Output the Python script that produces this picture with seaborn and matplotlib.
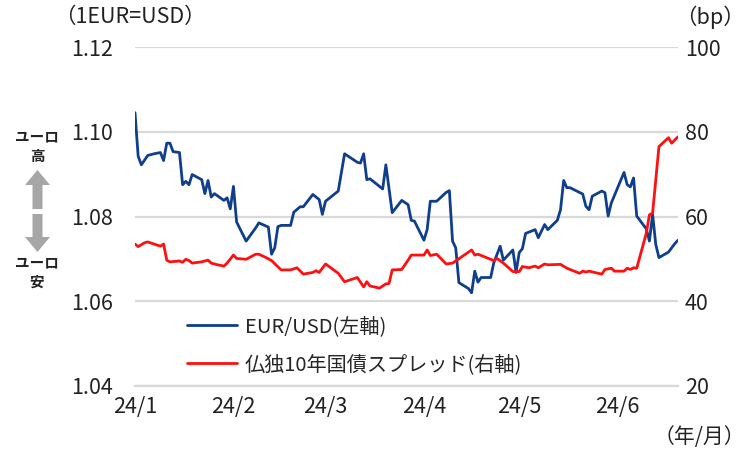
import matplotlib
matplotlib.use("Agg")
import matplotlib.pyplot as plt
from matplotlib.patches import FancyArrow
import seaborn as sns
import pandas as pd

sns.set_theme(style="white")
plt.rcParams['font.family'] = ['Noto Sans CJK JP', 'DejaVu Sans']

# ---------------- data ----------------
eur_dates = [
    "2024-01-01", "2024-01-02", "2024-01-03", "2024-01-05", "2024-01-07", "2024-01-09",
    "2024-01-10", "2024-01-11", "2024-01-12", "2024-01-13", "2024-01-15", "2024-01-16",
    "2024-01-17", "2024-01-18", "2024-01-19", "2024-01-22", "2024-01-23", "2024-01-24",
    "2024-01-25", "2024-01-26", "2024-01-29", "2024-01-30", "2024-01-31", "2024-02-01",
    "2024-02-02", "2024-02-05", "2024-02-08", "2024-02-09", "2024-02-12", "2024-02-13",
    "2024-02-14", "2024-02-15", "2024-02-16", "2024-02-19", "2024-02-20", "2024-02-22",
    "2024-02-23", "2024-02-26", "2024-02-28", "2024-02-29", "2024-03-01", "2024-03-05",
    "2024-03-07", "2024-03-11", "2024-03-12", "2024-03-13", "2024-03-14", "2024-03-15",
    "2024-03-19", "2024-03-20", "2024-03-22", "2024-03-25", "2024-03-27", "2024-03-28",
    "2024-03-29", "2024-04-01", "2024-04-02", "2024-04-03", "2024-04-05", "2024-04-08",
    "2024-04-09", "2024-04-10", "2024-04-11", "2024-04-12", "2024-04-15", "2024-04-16",
    "2024-04-17", "2024-04-18", "2024-04-19", "2024-04-22", "2024-04-23", "2024-04-25",
    "2024-04-26", "2024-04-29", "2024-04-30", "2024-05-01", "2024-05-02", "2024-05-03",
    "2024-05-06", "2024-05-07", "2024-05-09", "2024-05-10", "2024-05-13", "2024-05-14",
    "2024-05-15", "2024-05-16", "2024-05-17", "2024-05-21", "2024-05-22", "2024-05-23",
    "2024-05-24", "2024-05-27", "2024-05-28", "2024-05-29", "2024-05-30", "2024-06-03",
    "2024-06-04", "2024-06-05", "2024-06-06", "2024-06-07", "2024-06-10", "2024-06-11",
    "2024-06-12", "2024-06-13", "2024-06-14", "2024-06-17", "2024-06-19", "2024-06-20",
]
eur_values = [
    1.1045, 1.0942, 1.0922, 1.0944, 1.0948, 1.0951,
    1.0932, 1.0973, 1.0973, 1.0953, 1.0951, 1.0875,
    1.0883, 1.0875, 1.0899, 1.0887, 1.0854, 1.0885,
    1.0846, 1.0854, 1.0838, 1.0844, 1.0818, 1.0871,
    1.0787, 1.0742, 1.0773, 1.0785, 1.0775, 1.0711,
    1.0726, 1.0776, 1.0779, 1.0779, 1.0810, 1.0823,
    1.0823, 1.0852, 1.0840, 1.0805, 1.0836, 1.0860,
    1.0948, 1.0928, 1.0926, 1.0948, 1.0887, 1.0889,
    1.0865, 1.0922, 1.0809, 1.0838, 1.0828, 1.0791,
    1.0789, 1.0744, 1.0769, 1.0836, 1.0836, 1.0857,
    1.0861, 1.0742, 1.0726, 1.0644, 1.0630, 1.0620,
    1.0671, 1.0645, 1.0656, 1.0656, 1.0691, 1.0730,
    1.0697, 1.0721, 1.0668, 1.0715, 1.0724, 1.0760,
    1.0769, 1.0750, 1.0781, 1.0769, 1.0791, 1.0816,
    1.0885, 1.0868, 1.0868, 1.0853, 1.0824, 1.0816,
    1.0848, 1.0860, 1.0856, 1.0801, 1.0832, 1.0904,
    1.0875, 1.0870, 1.0891, 1.0801, 1.0771, 1.0742,
    1.0805, 1.0734, 1.0703, 1.0716, 1.0736, 1.0744,
]

spread_dates = [
    "2024-01-01", "2024-01-02", "2024-01-04", "2024-01-05", "2024-01-09", "2024-01-10",
    "2024-01-11", "2024-01-12", "2024-01-15", "2024-01-16", "2024-01-17", "2024-01-18",
    "2024-01-19", "2024-01-22", "2024-01-24", "2024-01-25", "2024-01-27", "2024-01-29",
    "2024-01-30", "2024-02-01", "2024-02-02", "2024-02-05", "2024-02-08", "2024-02-09",
    "2024-02-11", "2024-02-13", "2024-02-16", "2024-02-19", "2024-02-21", "2024-02-23",
    "2024-02-26", "2024-02-27", "2024-02-28", "2024-03-01", "2024-03-05", "2024-03-07",
    "2024-03-11", "2024-03-13", "2024-03-14", "2024-03-15", "2024-03-18", "2024-03-20",
    "2024-03-21", "2024-03-22", "2024-03-25", "2024-03-27", "2024-03-28", "2024-04-01",
    "2024-04-02", "2024-04-03", "2024-04-05", "2024-04-08", "2024-04-10", "2024-04-16",
    "2024-04-17", "2024-04-18", "2024-04-23", "2024-04-24", "2024-04-26", "2024-04-29",
    "2024-05-01", "2024-05-02", "2024-05-04", "2024-05-06", "2024-05-07", "2024-05-09",
    "2024-05-10", "2024-05-14", "2024-05-16", "2024-05-20", "2024-05-21", "2024-05-22",
    "2024-05-23", "2024-05-27", "2024-05-28", "2024-05-30", "2024-05-31", "2024-06-03",
    "2024-06-04", "2024-06-05", "2024-06-06", "2024-06-07", "2024-06-10", "2024-06-11",
    "2024-06-12", "2024-06-14", "2024-06-17", "2024-06-18", "2024-06-20",
]
spread_values = [
    53.5, 52.9, 53.8, 54.0, 53.0, 53.5,
    49.7, 49.3, 49.5, 49.2, 49.9, 49.6,
    49.0, 49.3, 49.7, 49.0, 48.6, 48.3,
    49.0, 50.9, 50.1, 49.9, 51.1, 51.1,
    50.4, 49.6, 47.4, 47.4, 47.9, 46.4,
    46.8, 47.2, 46.8, 48.8, 46.6, 44.6,
    45.6, 43.4, 44.6, 43.6, 43.1, 44.1,
    44.2, 47.4, 47.5, 49.7, 50.9, 50.9,
    52.1, 50.8, 51.1, 48.8, 49.0, 52.1,
    50.9, 51.1, 49.6, 50.1, 49.0, 47.0,
    47.0, 48.2, 47.9, 48.3, 47.9, 48.8,
    48.6, 48.7, 47.8, 46.6, 47.1, 46.9,
    47.1, 46.4, 47.5, 47.8, 47.1, 47.1,
    47.8, 47.5, 47.9, 47.8, 56.0, 60.4,
    60.8, 76.5, 78.6, 77.3, 78.8,
]

x_tick_dates = ["2024-01-01", "2024-02-01", "2024-03-01", "2024-04-01", "2024-05-01", "2024-06-01"]
x_tick_labels = ["24/1", "24/2", "24/3", "24/4", "24/5", "24/6"]
left_ticks = [1.04, 1.06, 1.08, 1.10, 1.12]
right_ticks = [20, 40, 60, 80, 100]
x_range = ["2024-01-01", "2024-06-20"]

series_labels = ["EUR/USD(左軸)", "仏独10年国債スプレッド(右軸)"]

eur_df = pd.DataFrame({"date": pd.to_datetime(eur_dates), "value": eur_values})
spr_df = pd.DataFrame({"date": pd.to_datetime(spread_dates), "value": spread_values})

# ---------------- figure ----------------
W, H = 749, 450
fig = plt.figure(figsize=(W / 100, H / 100), dpi=100)
L, R, T, B = 135, 678, 47, 386
ax = fig.add_axes([L / W, 1 - B / H, (R - L) / W, (B - T) / H])
ax2 = ax.twinx()

BLUE = "#0F3F8C"
RED = "#FF0F0F"
GRID = "#D9D9D9"
TXT = "#222222"
FS = 15.5

sns.lineplot(data=eur_df, x="date", y="value", ax=ax, color=BLUE, linewidth=2.0,
             label=series_labels[0], legend=False)
sns.lineplot(data=spr_df, x="date", y="value", ax=ax2, color=RED, linewidth=2.0,
             label=series_labels[1], legend=False)

ax.set_xlim(pd.to_datetime(x_range[0]), pd.to_datetime(x_range[1]))
ax.set_ylim(left_ticks[0], left_ticks[-1])
ax2.set_ylim(right_ticks[0], right_ticks[-1])

ax.set_yticks(left_ticks)
ax.set_yticklabels([f"{v:.2f}" for v in left_ticks])
ax2.set_yticks(right_ticks)
ax2.set_yticklabels([f"{v}" for v in right_ticks])
ax.set_xticks(pd.to_datetime(x_tick_dates))
ax.set_xticklabels(x_tick_labels)

for a in (ax, ax2):
    a.set_xlabel("")
    a.set_ylabel("")

ax.grid(axis="y", color=GRID, linewidth=1.6)
ax.grid(axis="x", visible=False)
ax2.grid(False)
ax.set_axisbelow(True)

for a in (ax, ax2):
    for s in ("left", "right", "top", "bottom"):
        a.spines[s].set_visible(False)
ax.spines["bottom"].set_visible(True)
ax.spines["bottom"].set_color(GRID)
ax.spines["bottom"].set_linewidth(1.6)

ax.tick_params(axis="x", direction="in", length=4, width=1, color="#BFBFBF",
               labelsize=FS, pad=7, labelcolor=TXT)
ax.tick_params(axis="y", length=0, labelsize=FS, pad=16, labelcolor=TXT)
ax2.tick_params(axis="y", length=0, labelsize=FS, pad=5, labelcolor=TXT)

# legend
h1, l1 = ax.get_legend_handles_labels()
h2, l2 = ax2.get_legend_handles_labels()
fig.legend(h1 + h2, l1 + l2, loc="upper left",
           bbox_to_anchor=(187 / W, 1 - 316 / H), frameon=False,
           handlelength=2.5, handletextpad=0.37,
           labelspacing=0.85, borderpad=0, borderaxespad=0,
           prop={"size": 14.5})

# overlay for annotations (pixel coordinates)
ov = fig.add_axes([0, 0, 1, 1], zorder=-1)
ov.set_xlim(0, W)
ov.set_ylim(H, 0)
ov.axis("off")
ov.patch.set_alpha(0)

ov.text(54, 17, "（1EUR=USD）", fontsize=FS, ha="left", va="center", color=TXT)
ov.text(710, 17, "（bp）", fontsize=FS, ha="center", va="center", color=TXT)
ov.text(699, 437, "（年/月）", fontsize=15, ha="center", va="center", color=TXT)

ov.text(37, 136, "ユーロ", fontsize=10.5, ha="center", va="center", fontweight="bold", color=TXT)
ov.text(37, 156, "高", fontsize=10.5, ha="center", va="center", fontweight="bold", color=TXT)
ov.text(37, 262, "ユーロ", fontsize=10.5, ha="center", va="center", fontweight="bold", color=TXT)
ov.text(37, 282, "安", fontsize=10.5, ha="center", va="center", fontweight="bold", color=TXT)

ov.add_patch(FancyArrow(37.5, 209, 0, -39, width=10, head_width=25, head_length=15,
                        length_includes_head=True, color="#A6A6A6", lw=0))
ov.add_patch(FancyArrow(37.5, 214, 0, 38, width=10, head_width=25, head_length=15,
                        length_includes_head=True, color="#A6A6A6", lw=0))

fig.savefig("out.png", dpi=100)
